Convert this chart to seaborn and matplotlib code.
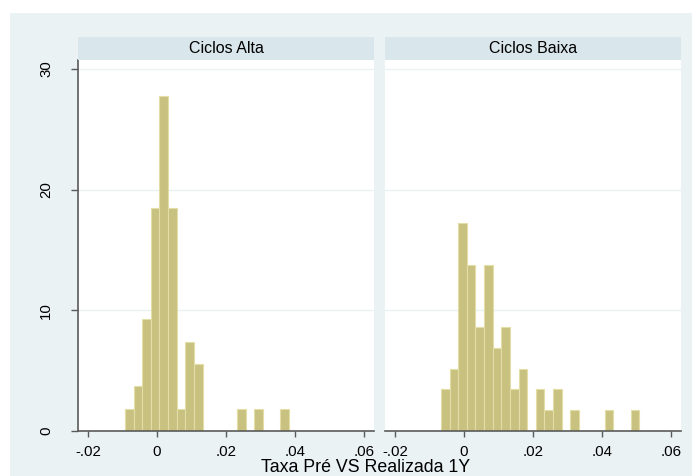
import matplotlib
matplotlib.use("Agg")
import matplotlib.pyplot as plt
import numpy as np
import pandas as pd
import seaborn as sns
from matplotlib.patches import Rectangle

# histogram counts per bin (Stata style, shown as percent)
bin_width = 0.0025
alta_start = -0.0093
alta_counts = [1, 2, 5, 10, 15, 10, 1, 4, 3, 0, 0, 0, 0, 1, 0, 1, 0, 0, 1]
baixa_start = -0.0067
baixa_counts = [2, 3, 10, 8, 5, 8, 4, 5, 2, 3, 0, 2, 1, 2, 0, 1, 0, 0, 0, 1, 0, 0, 1]

panel_titles = ["Ciclos Alta", "Ciclos Baixa"]
x_ticks = [-0.02, 0, 0.02, 0.04, 0.06]
x_ticklabels = ["-.02", "0", ".02", ".04", ".06"]
y_ticks = [0, 10, 20, 30]
x_label = "Taxa Pré VS Realizada 1Y"

BG = "#EAF2F3"
STRIP = "#D9E6EB"
BAR = "#C9C17F"
BAR_EDGE = "#E3DEA8"
AXIS = "#5A5A5A"

sns.set_style("white")
plt.rcParams["font.family"] = ["Liberation Sans", "DejaVu Sans"]
plt.rcParams["text.color"] = "black"
plt.rcParams["xtick.color"] = "black"
plt.rcParams["ytick.color"] = "black"

W, H = 692, 476
fig = plt.figure(figsize=(W / 100, H / 100), dpi=100)
fig.patch.set_facecolor("white")
fig.add_artist(Rectangle((10 / W, 0), 1, (H - 13) / H, transform=fig.transFigure,
                         facecolor=BG, edgecolor="none", zorder=0))


def px_box(x0, y0, x1, y1):
    return [x0 / W, (H - y1) / H, (x1 - x0) / W, (y1 - y0) / H]


panels = [(78, 374, alta_start, alta_counts), (385, 681, baixa_start, baixa_counts)]
for i, (x0, x1, start, counts) in enumerate(panels):
    ax = fig.add_axes(px_box(x0, 60, x1, 431))
    n = len(counts)
    centers = start + bin_width * (np.arange(n) + 0.5)
    df = pd.DataFrame({"x": centers, "w": counts})
    sns.histplot(data=df, x="x", weights="w", binwidth=bin_width,
                 binrange=(start, start + bin_width * n), stat="percent", ax=ax,
                 color=BAR, edgecolor=BAR_EDGE, linewidth=0.8, alpha=1)
    ax.set_facecolor("white")
    ax.set_xlim(-0.0229, 0.0629)
    ax.set_ylim(0, 30.75)
    ax.set_yticks(y_ticks)
    ax.grid(axis="y", color=BG, linewidth=1.0)
    ax.set_axisbelow(True)
    ax.set_xticks(x_ticks)
    ax.set_xticklabels(x_ticklabels, fontsize=10.8)
    ax.tick_params(axis="x", bottom=True, length=4, width=1, color=AXIS,
                   labelcolor="black", pad=6)
    for s in ["top", "right"]:
        ax.spines[s].set_visible(False)
    ax.spines["bottom"].set_color(AXIS)
    ax.spines["bottom"].set_linewidth(1.2)
    if i == 0:
        ax.spines["left"].set_color(AXIS)
        ax.spines["left"].set_linewidth(1.2)
        ax.tick_params(axis="y", left=True, length=5, width=1, color=AXIS,
                       labelcolor="black", pad=13)
        ax.set_yticklabels([str(t) for t in y_ticks], fontsize=10.8, rotation=90, va="center")
    else:
        ax.spines["left"].set_visible(False)
        ax.tick_params(axis="y", left=False, labelleft=False)
    ax.set_xlabel("")
    ax.set_ylabel("")

    sax = fig.add_axes(px_box(x0, 37, x1, 60))
    sax.set_facecolor(STRIP)
    sax.set_xticks([])
    sax.set_yticks([])
    for s in sax.spines.values():
        s.set_visible(False)
    sax.text(0.5, 0.5, panel_titles[i], ha="center", va="center", fontsize=11.5,
             color="black", transform=sax.transAxes)

fig.text(366 / W, 3.5 / H, x_label, ha="center", va="baseline", fontsize=12.8,
         color="black")

fig.savefig("out.png", dpi=100)
